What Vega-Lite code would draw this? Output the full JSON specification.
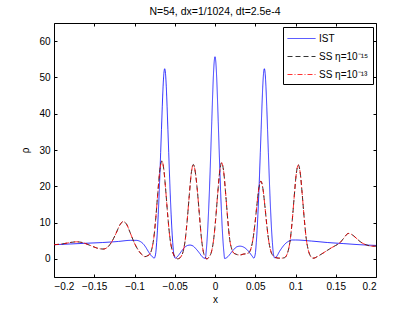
{
  "$schema": "https://vega.github.io/schema/vega-lite/v6.json",
  "width": 322,
  "height": 254,
  "autosize": "none",
  "padding": {"left": 54, "top": 23, "right": 39, "bottom": 36},
  "background": "white",
  "title": {"text": "N=54, dx=1/1024, dt=2.5e-4", "fontSize": 10.5, "fontWeight": "normal", "font": "Liberation Sans", "offset": 5, "color": "black"},
  "config": {
    "view": {"stroke": "black", "strokeWidth": 1},
    "axis": {"domain": false, "grid": false, "labelFont": "Liberation Sans", "labelFontSize": 10, "labelColor": "black", "tickColor": "black", "tickSize": -3, "labelPadding": 7, "titleFont": "Liberation Sans", "titleFontSize": 10, "titleFontWeight": "normal", "titleColor": "black"},
    "legend": {"labelFont": "Liberation Sans", "labelFontSize": 10, "labelColor": "black"}
  },
  "datasets": {
    "ist": [
      {"x": -0.2, "y": 3.9}, {"x": -0.18, "y": 4.1}, {"x": -0.16, "y": 4.3}, {"x": -0.14, "y": 4.5}, {"x": -0.12, "y": 4.8},
      {"x": -0.105, "y": 5.1}, {"x": -0.098, "y": 5.1}, {"x": -0.093, "y": 4.8}, {"x": -0.089, "y": 4.1}, {"x": -0.086, "y": 3.2},
      {"x": -0.083, "y": 2.1}, {"x": -0.08, "y": 1.1}, {"x": -0.0775, "y": 0.5}, {"x": -0.0755, "y": 0.2},
      {"x": -0.0745, "y": 0.6}, {"x": -0.0735, "y": 1.8}, {"x": -0.0725, "y": 4.5}, {"x": -0.0715, "y": 7.9}, {"x": -0.0705, "y": 12.3},
      {"x": -0.0695, "y": 17.3}, {"x": -0.0685, "y": 23.1}, {"x": -0.0675, "y": 29.3}, {"x": -0.0665, "y": 35.6}, {"x": -0.0655, "y": 41.9},
      {"x": -0.0645, "y": 47.4}, {"x": -0.0635, "y": 51.1}, {"x": -0.0625, "y": 52.4}, {"x": -0.0615, "y": 51.1}, {"x": -0.0605, "y": 47.4},
      {"x": -0.0595, "y": 41.9}, {"x": -0.0585, "y": 35.6}, {"x": -0.0575, "y": 29.3}, {"x": -0.0565, "y": 23.1}, {"x": -0.0555, "y": 17.3},
      {"x": -0.0545, "y": 12.3}, {"x": -0.0535, "y": 7.9}, {"x": -0.0525, "y": 4.5}, {"x": -0.0515, "y": 1.8}, {"x": -0.0505, "y": 0.6},
      {"x": -0.0495, "y": 0.2}, {"x": -0.046, "y": 0.8}, {"x": -0.042, "y": 2.0}, {"x": -0.038, "y": 3.1}, {"x": -0.034, "y": 3.7},
      {"x": -0.031, "y": 3.8}, {"x": -0.027, "y": 3.5}, {"x": -0.023, "y": 2.6}, {"x": -0.019, "y": 1.5}, {"x": -0.016, "y": 0.6},
      {"x": -0.0135, "y": 0.2}, {"x": -0.012, "y": 0.1}, {"x": -0.011, "y": 1.9}, {"x": -0.01, "y": 4.7}, {"x": -0.009, "y": 8.4},
      {"x": -0.008, "y": 13.1}, {"x": -0.007, "y": 18.4}, {"x": -0.006, "y": 24.5}, {"x": -0.005, "y": 31.2}, {"x": -0.004, "y": 37.9},
      {"x": -0.003, "y": 44.6}, {"x": -0.002, "y": 50.4}, {"x": -0.001, "y": 54.3}, {"x": 0.0, "y": 55.7}, {"x": 0.001, "y": 54.3},
      {"x": 0.002, "y": 50.4}, {"x": 0.003, "y": 44.6}, {"x": 0.004, "y": 37.9}, {"x": 0.005, "y": 31.2}, {"x": 0.006, "y": 24.5},
      {"x": 0.007, "y": 18.4}, {"x": 0.008, "y": 13.1}, {"x": 0.009, "y": 8.4}, {"x": 0.01, "y": 4.7}, {"x": 0.011, "y": 1.9},
      {"x": 0.012, "y": 0.1}, {"x": 0.0135, "y": 0.2}, {"x": 0.016, "y": 0.6}, {"x": 0.019, "y": 1.4}, {"x": 0.023, "y": 2.5},
      {"x": 0.027, "y": 3.3}, {"x": 0.031, "y": 3.5}, {"x": 0.035, "y": 3.3}, {"x": 0.039, "y": 2.7}, {"x": 0.043, "y": 1.7},
      {"x": 0.046, "y": 0.8}, {"x": 0.0483, "y": 0.2}, {"x": 0.0493, "y": 0.6}, {"x": 0.0503, "y": 1.8}, {"x": 0.0513, "y": 4.5},
      {"x": 0.0523, "y": 7.9}, {"x": 0.0533, "y": 12.3}, {"x": 0.0543, "y": 17.3}, {"x": 0.0553, "y": 23.1}, {"x": 0.0563, "y": 29.3},
      {"x": 0.0573, "y": 35.6}, {"x": 0.0583, "y": 41.9}, {"x": 0.0593, "y": 47.4}, {"x": 0.0603, "y": 51.1}, {"x": 0.0613, "y": 52.4},
      {"x": 0.0623, "y": 51.1}, {"x": 0.0633, "y": 47.4}, {"x": 0.0643, "y": 41.9}, {"x": 0.0653, "y": 35.6}, {"x": 0.0663, "y": 29.3},
      {"x": 0.0673, "y": 23.1}, {"x": 0.0683, "y": 17.3}, {"x": 0.0693, "y": 12.3}, {"x": 0.0703, "y": 7.9}, {"x": 0.0713, "y": 4.5},
      {"x": 0.0723, "y": 1.8}, {"x": 0.0733, "y": 0.6}, {"x": 0.0745, "y": 0.2}, {"x": 0.077, "y": 0.8}, {"x": 0.08, "y": 2.0},
      {"x": 0.083, "y": 3.0}, {"x": 0.087, "y": 4.1}, {"x": 0.091, "y": 4.8}, {"x": 0.096, "y": 5.2}, {"x": 0.1, "y": 5.2},
      {"x": 0.12, "y": 4.9}, {"x": 0.14, "y": 4.5}, {"x": 0.16, "y": 4.2}, {"x": 0.18, "y": 3.9}, {"x": 0.2, "y": 3.7}
    ],
    "ss": [
      {"x": -0.2, "y": 3.9}, {"x": -0.19, "y": 4.1}, {"x": -0.18, "y": 4.5}, {"x": -0.172, "y": 4.7}, {"x": -0.165, "y": 4.5},
      {"x": -0.155, "y": 3.7}, {"x": -0.147, "y": 3.0}, {"x": -0.139, "y": 2.7}, {"x": -0.133, "y": 3.3}, {"x": -0.128, "y": 4.8},
      {"x": -0.123, "y": 7.0}, {"x": -0.118, "y": 9.4}, {"x": -0.114, "y": 10.3}, {"x": -0.11, "y": 9.6}, {"x": -0.105, "y": 7.0},
      {"x": -0.1, "y": 4.3}, {"x": -0.095, "y": 2.3}, {"x": -0.091, "y": 1.2}, {"x": -0.087, "y": 0.6}, {"x": -0.0835, "y": 0.9},
      {"x": -0.081, "y": 1.3}, {"x": -0.0785, "y": 2.7}, {"x": -0.076, "y": 5.8}, {"x": -0.0735, "y": 11.4}, {"x": -0.071, "y": 18.3},
      {"x": -0.0685, "y": 24.5}, {"x": -0.066, "y": 27.0}, {"x": -0.0635, "y": 24.5}, {"x": -0.061, "y": 18.3}, {"x": -0.0585, "y": 11.4},
      {"x": -0.056, "y": 5.8}, {"x": -0.0535, "y": 2.6}, {"x": -0.051, "y": 1.0}, {"x": -0.0485, "y": 0.3}, {"x": -0.0465, "y": 0.0},
      {"x": -0.044, "y": 0.2}, {"x": -0.042, "y": 0.7}, {"x": -0.0395, "y": 2.1}, {"x": -0.037, "y": 5.2}, {"x": -0.0345, "y": 10.7},
      {"x": -0.032, "y": 17.4}, {"x": -0.0295, "y": 23.5}, {"x": -0.027, "y": 26.0}, {"x": -0.0245, "y": 24.0}, {"x": -0.022, "y": 19.0},
      {"x": -0.0195, "y": 12.5}, {"x": -0.017, "y": 6.0}, {"x": -0.0145, "y": 2.0}, {"x": -0.012, "y": 0.4}, {"x": -0.0103, "y": 0.0},
      {"x": -0.008, "y": 0.3}, {"x": -0.0067, "y": 0.7}, {"x": -0.0042, "y": 2.1}, {"x": -0.0017, "y": 5.3}, {"x": 0.0008, "y": 10.9},
      {"x": 0.0033, "y": 17.8}, {"x": 0.0058, "y": 24.0}, {"x": 0.0083, "y": 26.5}, {"x": 0.0108, "y": 24.0}, {"x": 0.0133, "y": 17.8},
      {"x": 0.0158, "y": 10.9}, {"x": 0.0183, "y": 5.3}, {"x": 0.0208, "y": 2.7}, {"x": 0.0233, "y": 1.6}, {"x": 0.026, "y": 1.3},
      {"x": 0.029, "y": 1.1}, {"x": 0.032, "y": 1.1}, {"x": 0.035, "y": 1.3}, {"x": 0.0385, "y": 1.4}, {"x": 0.042, "y": 1.7},
      {"x": 0.0445, "y": 2.7}, {"x": 0.047, "y": 5.2}, {"x": 0.0495, "y": 9.4}, {"x": 0.052, "y": 14.7}, {"x": 0.0545, "y": 19.5},
      {"x": 0.057, "y": 21.4}, {"x": 0.0595, "y": 19.4}, {"x": 0.062, "y": 14.5}, {"x": 0.0645, "y": 9.0}, {"x": 0.067, "y": 4.6},
      {"x": 0.0695, "y": 2.0}, {"x": 0.072, "y": 0.9}, {"x": 0.075, "y": 0.4}, {"x": 0.079, "y": 0.2}, {"x": 0.083, "y": 0.2},
      {"x": 0.086, "y": 0.3}, {"x": 0.0885, "y": 0.8}, {"x": 0.091, "y": 2.3}, {"x": 0.0935, "y": 5.3}, {"x": 0.096, "y": 10.7},
      {"x": 0.0985, "y": 17.4}, {"x": 0.101, "y": 23.5}, {"x": 0.1035, "y": 25.9}, {"x": 0.106, "y": 23.5}, {"x": 0.1085, "y": 17.4},
      {"x": 0.111, "y": 10.7}, {"x": 0.1135, "y": 5.3}, {"x": 0.116, "y": 2.3}, {"x": 0.1185, "y": 0.8}, {"x": 0.121, "y": 0.2},
      {"x": 0.123, "y": 0.2}, {"x": 0.126, "y": 0.5}, {"x": 0.13, "y": 1.0}, {"x": 0.135, "y": 1.7}, {"x": 0.14, "y": 2.4},
      {"x": 0.145, "y": 3.1}, {"x": 0.15, "y": 3.7}, {"x": 0.155, "y": 4.4}, {"x": 0.16, "y": 5.7}, {"x": 0.1656, "y": 7.0},
      {"x": 0.17, "y": 6.7}, {"x": 0.175, "y": 5.8}, {"x": 0.18, "y": 4.8}, {"x": 0.185, "y": 4.1}, {"x": 0.19, "y": 3.7},
      {"x": 0.195, "y": 3.5}, {"x": 0.2, "y": 3.5}
    ]
  },
  "layer": [
    {
      "data": {"name": "ist"},
      "mark": {"type": "line", "strokeWidth": 0.8, "interpolate": "monotone", "clip": true},
      "encoding": {
        "x": {"field": "x", "type": "quantitative", "scale": {"domain": [-0.2, 0.2], "nice": false, "zero": false}, "axis": {"orient": "bottom", "values": [-0.2, -0.15, -0.1, -0.05, 0, 0.05, 0.1, 0.15, 0.2], "format": ".2~f", "title": "x", "titlePadding": 3}},
        "y": {"field": "y", "type": "quantitative", "scale": {"domain": [-5, 65], "nice": false, "zero": false}, "axis": {"orient": "left", "values": [0, 10, 20, 30, 40, 50, 60], "title": "ρ", "titlePadding": 8}},
        "color": {"datum": "IST", "type": "nominal", "scale": {"domain": ["IST", "SS η=10⁻¹⁵", "SS η=10⁻¹³"], "range": ["#0000ff", "#000000", "#ff0000"]}, "legend": {"orient": "none", "legendX": 229, "legendY": 4, "title": null, "symbolType": "M-1,0H3", "symbolSize": 196, "symbolStrokeWidth": 0.8, "strokeColor": "black", "fillColor": "white", "padding": 4, "rowPadding": 5, "labelOffset": 17}},
        "strokeDash": {"datum": "IST", "type": "nominal", "scale": {"domain": ["IST", "SS η=10⁻¹⁵", "SS η=10⁻¹³"], "range": [[1, 0], [5, 3], [5, 2, 1, 2]]}, "legend": {"orient": "none", "legendX": 229, "legendY": 4, "title": null, "symbolType": "M-1,0H3", "symbolSize": 196, "symbolStrokeWidth": 0.8, "strokeColor": "black", "fillColor": "white", "padding": 4, "rowPadding": 5, "labelOffset": 17}}
      }
    },
    {
      "data": {"name": "ss"},
      "mark": {"type": "line", "strokeWidth": 0.8, "interpolate": "monotone", "clip": true},
      "encoding": {
        "x": {"field": "x", "type": "quantitative", "axis": {"orient": "top", "values": [-0.2, -0.15, -0.1, -0.05, 0, 0.05, 0.1, 0.15, 0.2], "labels": false, "title": null}},
        "y": {"field": "y", "type": "quantitative", "axis": {"orient": "right", "values": [0, 10, 20, 30, 40, 50, 60], "labels": false, "title": null}},
        "color": {"datum": "SS η=10⁻¹⁵", "type": "nominal"},
        "strokeDash": {"datum": "SS η=10⁻¹⁵", "type": "nominal"}
      }
    },
    {
      "data": {"name": "ss"},
      "mark": {"type": "line", "strokeWidth": 0.8, "interpolate": "monotone", "clip": true},
      "encoding": {
        "x": {"field": "x", "type": "quantitative", "axis": null},
        "y": {"field": "y", "type": "quantitative", "axis": null},
        "color": {"datum": "SS η=10⁻¹³", "type": "nominal"},
        "strokeDash": {"datum": "SS η=10⁻¹³", "type": "nominal"}
      }
    }
  ],
  "resolve": {"axis": {"x": "independent", "y": "independent"}}
}
